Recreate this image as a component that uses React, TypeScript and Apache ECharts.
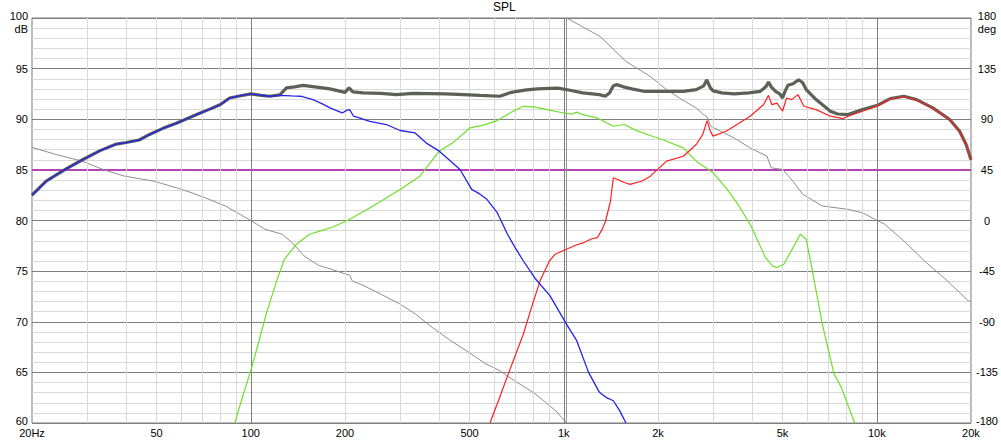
import React, { useEffect, useRef } from "react";
import * as echarts from "echarts";

// ---- axis / tick data ----
const xLabelValues = [20, 50, 100, 200, 500, 1000, 2000, 5000, 10000, 20000];
const minorGridFreqs = [30, 40, 50, 60, 70, 80, 90, 200, 300, 400, 500, 600, 700, 800, 900, 2000, 3000, 4000, 5000, 6000, 7000, 8000, 9000];
const majorGridFreqs = [100, 1000, 10000];
const referenceLevel = 85;
const leftUnit = "dB";
const rightUnit = "deg";

// ---- series data: [frequency Hz, value] ----
const totalSpl: [number, number][] = [
  [20, 82.5], [22.2, 83.9], [25.7, 85.1], [29, 86.0], [33, 86.9], [37.2, 87.55], [40, 87.7], [44, 87.95],
  [47.5, 88.5], [52.4, 89.1], [57.8, 89.6], [63, 90.1], [68.7, 90.6], [74, 91.0], [80, 91.45], [85.6, 92.1],
  [92, 92.3], [100, 92.5], [108, 92.35], [115, 92.27], [123.8, 92.4], [130, 93.1], [138, 93.2], [147, 93.35],
  [160, 93.2], [179, 93.0], [200, 92.66], [206, 93.1], [212, 92.7], [229, 92.6], [260, 92.55], [292, 92.43],
  [330, 92.55], [373, 92.53], [420, 92.5], [477, 92.43], [540, 92.35], [625, 92.27], [670, 92.6], [710, 92.76],
  [760, 92.9], [825, 93.0], [900, 93.05], [958, 93.08], [1047, 92.86], [1150, 92.6], [1300, 92.43], [1356, 92.27],
  [1400, 92.6], [1440, 93.3], [1477, 93.42], [1550, 93.2], [1650, 93.0], [1800, 92.76], [2000, 92.76], [2410, 92.76],
  [2650, 92.93], [2800, 93.3], [2865, 93.9], [2940, 93.1], [3000, 92.8], [3200, 92.6], [3500, 92.5], [3900, 92.6],
  [4245, 92.76], [4420, 93.2], [4510, 93.67], [4600, 93.2], [4750, 92.76], [4900, 92.5], [5000, 92.1], [5100, 92.8],
  [5200, 93.35], [5400, 93.5], [5630, 93.9], [5800, 93.6], [5950, 92.93], [6400, 91.94], [7110, 90.79], [7500, 90.52],
  [8100, 90.46], [9000, 90.95], [10000, 91.35], [11050, 92.04], [12200, 92.27], [13400, 91.94], [15100, 91.12],
  [17100, 89.97], [18400, 88.82], [19300, 87.5], [20000, 86.0],
];

const wooferSpl: [number, number][] = [
  [20, 82.5], [22.2, 83.9], [25.7, 85.1], [29, 86.0], [33, 86.9], [37.2, 87.55], [40, 87.7], [44, 87.95],
  [47.5, 88.5], [52.4, 89.1], [57.8, 89.6], [63, 90.1], [68.7, 90.6], [74, 91.0], [80, 91.45], [85.6, 92.1],
  [92, 92.3], [100, 92.5], [108, 92.35], [115, 92.27], [124, 92.36], [135, 92.3], [145, 92.27], [158, 91.94],
  [170, 91.5], [179, 91.12], [196, 90.62], [203, 90.9], [207, 90.95], [213, 90.3], [222, 90.13], [240, 89.8],
  [271, 89.48], [300, 88.89], [335, 88.65], [363, 87.67], [400, 86.85], [430, 86.0], [466, 85.04], [508, 83.07],
  [540, 82.6], [568, 82.09], [613, 80.77], [661, 78.64], [700, 77.3], [743, 76.0], [809, 74.3], [904, 72.56],
  [1020, 69.77], [1100, 68.13], [1200, 65.0], [1300, 63.03], [1370, 62.5], [1440, 62.2], [1510, 61.2], [1580, 60.0],
];

const midSpl: [number, number][] = [
  [88.9, 60], [95, 63], [100, 65.17], [106, 68.0], [112, 70.76], [117, 72.6], [121, 74.04], [128, 76.17],
  [140, 77.66], [154, 78.64], [168, 79.0], [183, 79.36], [207, 80.12], [226, 80.8], [246, 81.43], [270, 82.2],
  [300, 83.07], [347, 84.38], [400, 86.85], [442, 87.67], [501, 89.14], [550, 89.4], [613, 89.87], [680, 90.7],
  [743, 91.28], [810, 91.2], [900, 90.9], [1000, 90.62], [1060, 90.5], [1100, 90.7], [1150, 90.45], [1280, 90.13],
  [1440, 89.31], [1560, 89.48], [1700, 88.9], [1890, 88.4], [2100, 87.9], [2410, 87.17], [2650, 85.86], [3000, 84.71],
  [3300, 83.23], [3600, 81.6], [3940, 79.63], [4410, 76.33], [4650, 75.5], [4800, 75.35], [5050, 75.68], [5400, 77.32],
  [5700, 78.64], [5950, 78.15], [6200, 75.35], [6700, 69.77], [7300, 64.85], [7700, 63.53], [8500, 60.0],
];

const tweeterSpl: [number, number][] = [
  [581, 60], [620, 62.3], [665, 64.85], [743, 68.79], [790, 71.5], [840, 74.04], [900, 76.0], [938, 76.67],
  [1020, 77.16], [1100, 77.6], [1160, 77.82], [1230, 78.2], [1280, 78.3], [1330, 79.2], [1360, 79.95], [1410, 81.9],
  [1440, 84.22], [1500, 84.0], [1560, 83.75], [1630, 83.57], [1780, 83.9], [1890, 84.38], [2130, 85.86], [2410, 86.35],
  [2650, 87.51], [2780, 88.5], [2870, 89.87], [2940, 88.8], [3000, 88.33], [3300, 88.82], [3940, 90.3], [4350, 91.45],
  [4510, 92.36], [4620, 91.45], [4800, 91.6], [5000, 90.79], [5150, 92.1], [5350, 91.94], [5600, 92.43], [5850, 91.28],
  [6400, 90.95], [7110, 90.3], [7800, 90.07], [8100, 90.3], [9000, 90.79], [10000, 91.28], [11050, 92.0], [12200, 92.22],
  [13400, 91.9], [15100, 91.08], [17100, 89.93], [18400, 88.78], [19300, 87.45], [20000, 85.95],
];

const phaseDeg: [number, number][] = [
  [20, 65], [24, 58.5], [28.9, 52.8], [34, 45], [39.4, 39.5], [49, 35], [58, 29], [65, 24.5], [71.5, 20.2],
  [83, 12.9], [100, 0], [111, -7.8], [126, -12.2], [136, -20], [148, -31.5], [165, -40], [181, -43.3], [200, -47.5],
  [207, -48.5], [211, -53.7], [230, -58], [260, -65.4], [300, -74.3], [336, -83.2], [380, -95], [436, -107],
  [488, -115.7], [564, -127.5], [624, -133.4], [694, -142.3], [750, -148], [809, -154], [870, -161], [950, -170],
  [1020, -180], [1020, 180], [1307, 163.6], [1580, 141.4], [1890, 128], [2130, 116.3], [2400, 107], [2650, 100],
  [2800, 94], [2870, 92], [2950, 83.8], [3500, 73.4], [3940, 64.5], [4460, 57.2], [4600, 46.8], [5000, 45.4],
  [5400, 35], [5800, 23.3], [6700, 12.9], [8100, 9.9], [9000, 6.9], [10000, 0.2], [10600, -3.3], [12200, -18.1],
  [14200, -35.9], [16800, -53.6], [19600, -71.4], [20000, -72],
];

const FONT = "'Liberation Sans', Arial, sans-serif";
const FS = 11;

function formatFreq(v: number): string {
  const r = Math.round(v);
  if (r === 20) return "20Hz";
  if (r >= 1000) return `${Math.round(r / 1000)}k`;
  return String(r);
}

const lineSeries = (name: string, data: [number, number][], color: string, width: number, z: number, yAxisIndex = 0) => ({
  name,
  type: "line",
  data,
  yAxisIndex,
  showSymbol: false,
  symbol: "none",
  smooth: false,
  z,
  lineStyle: { color, width },
  emphasis: { disabled: true },
});

const richBase = { fontSize: FS, fontFamily: FONT, color: "#000" };

export default function App() {
  const ref = useRef<HTMLDivElement>(null);

  useEffect(() => {
    if (!ref.current) return;
    const chart = echarts.init(ref.current, null, { renderer: "svg" });
    const option: any = {
      animation: false,
      backgroundColor: "#ffffff",
      title: {
        text: "SPL",
        left: 493,
        top: 1,
        padding: 0,
        textStyle: { fontSize: 12, fontWeight: "normal", color: "#000", fontFamily: FONT },
      },
      grid: { left: 32, right: 30, top: 16, bottom: 17, show: true, borderColor: "#7a7a7a", borderWidth: 1, backgroundColor: "transparent" },
      xAxis: {
        type: "log",
        logBase: 10,
        min: 20,
        max: 20000,
        axisLine: { show: false },
        axisTick: { show: false },
        splitLine: { show: false },
        minorTick: { show: false },
        axisLabel: {
          customValues: xLabelValues,
          formatter: (v: number) => formatFreq(v),
          margin: 4,
          color: "#000",
          fontSize: FS,
          fontFamily: FONT,
          showMinLabel: true,
          showMaxLabel: true,
        },
      },
      yAxis: [
        {
          type: "value",
          min: 60,
          max: 100,
          interval: 5,
          position: "left",
          axisLine: { show: false },
          axisTick: { show: false },
          splitLine: { show: true, lineStyle: { color: "#7f7f7f", width: 1 } },
          minorTick: { show: false, splitNumber: 5 },
          minorSplitLine: { show: true, lineStyle: { color: "#d9d9d9", width: 1 } },
          axisLabel: {
            margin: 4,
            align: "right",
            fontSize: FS,
            fontFamily: FONT,
            color: "#000",
            formatter: (v: number) => {
              if (v === 100) return `{e| }\n{n|${v}}\n{n|${leftUnit}}`;
              if (v === 60) return `{lo|${v}}`;
              return String(v);
            },
            rich: {
              e: { ...richBase, lineHeight: 9 },
              n: { ...richBase, lineHeight: 12.5 },
              lo: { ...richBase, padding: [0, 0, 5, 0] },
            },
          },
        },
        {
          type: "value",
          min: -180,
          max: 180,
          interval: 45,
          position: "right",
          axisLine: { show: false },
          axisTick: { show: false },
          splitLine: { show: false },
          axisLabel: {
            margin: 16,
            align: "center",
            fontSize: FS,
            fontFamily: FONT,
            color: "#000",
            formatter: (v: number) => {
              if (v === 180) return `{e| }\n{n|${v}}\n{n|${rightUnit}}`;
              if (v === -180) return `{lo|${v}}`;
              return String(v);
            },
            rich: {
              e: { ...richBase, lineHeight: 9, align: "center" },
              n: { ...richBase, lineHeight: 12.5, align: "center" },
              lo: { ...richBase, padding: [0, 0, 5, 0], align: "center" },
            },
          },
        },
      ],
      series: [
        {
          type: "line",
          data: [[20, 60]],
          showSymbol: false,
          symbol: "none",
          lineStyle: { opacity: 0 },
          z: 1,
          silent: true,
          markLine: {
            silent: true,
            symbol: ["none", "none"],
            label: { show: false },
            lineStyle: { color: "#d9d9d9", width: 1, type: "solid" },
            emphasis: { disabled: true },
            data: minorGridFreqs.map((f) => ({ xAxis: f })),
          },
        },
        {
          type: "line",
          data: [[20, 60]],
          showSymbol: false,
          symbol: "none",
          lineStyle: { opacity: 0 },
          z: 2,
          silent: true,
          markLine: {
            silent: true,
            symbol: ["none", "none"],
            label: { show: false },
            lineStyle: { color: "#7f7f7f", width: 1, type: "solid" },
            emphasis: { disabled: true },
            data: majorGridFreqs.map((f) => ({ xAxis: f })),
          },
        },
        lineSeries("Reference", [[20, referenceLevel], [20000, referenceLevel]], "#b444b4", 2, 3),
        lineSeries("Phase", phaseDeg, "#8f8f8f", 1, 4, 1),
        lineSeries("Total", totalSpl, "#5c6157", 3.2, 5),
        lineSeries("Mid", midSpl, "#6ee02a", 1.2, 6),
        lineSeries("Tweeter", tweeterSpl, "#ff2020", 1.2, 7),
        lineSeries("Woofer", wooferSpl, "#2424e8", 1.3, 8),
      ],
    };
    chart.setOption(option);
    return () => chart.dispose();
  }, []);

  return (
    <div
      ref={ref}
      style={{ position: "fixed", left: 0, top: 0, width: 1001, height: 440, background: "#fff" }}
    />
  );
}
